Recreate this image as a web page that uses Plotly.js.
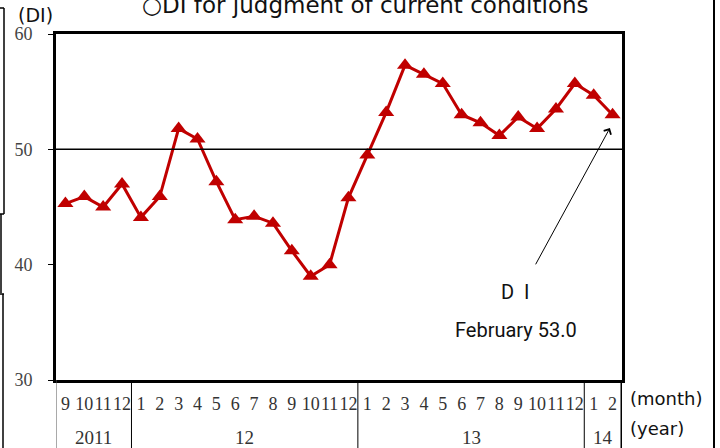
<!DOCTYPE html>
<html>
<head>
<meta charset="utf-8">
<script src="https://cdn.plot.ly/plotly-3.0.1.min.js"></script>
<style>html,body{margin:0;padding:0;background:#fff;}#chart{width:720px;height:448px;}</style>
</head>
<body>
<div id="chart"></div>
<script>
// Data (Sep 2011 - Feb 2014)
const months = ['9','10','11','12','1','2','3','4','5','6','7','8','9','10','11','12','1','2','3','4','5','6','7','8','9','10','11','12','1','2'];
const diValues = [45.3,45.9,45.0,47.0,44.1,45.9,51.8,50.9,47.2,43.9,44.2,43.6,41.2,39.0,40.0,45.8,49.5,53.2,57.3,56.5,55.7,53.0,52.3,51.2,52.8,51.8,53.5,55.7,54.7,53.0];
const yearLabels = ['2011','12','13','14'];
const yearStarts = [0,4,16,28];
const yearEnds = [3,15,27,29];
const yTicks = [30,40,50,60];

const idx = months.map((m,i)=>i);
const red = '#C00000';

const trace = {
  x: idx, y: diValues, type: 'scatter', mode: 'lines+markers',
  line: {color: red, width: 3},
  marker: {symbol: 'triangle-up', size: 14, color: red},
  hoverinfo: 'skip', showlegend: false
};

const shapes = [];
// gridline at 50
shapes.push({type:'line', xref:'paper', yref:'y', x0:0, x1:1, y0:50, y1:50, line:{color:'#000', width:1.5}});
// table separators under the axis
yearStarts.forEach((s,i)=>{
  shapes.push({type:'line', xref:'x', yref:'paper', x0:s-0.5, x1:s-0.5, y0:0, y1:-0.21, line:{color: i===0 ? '#555' : '#000', width:1}});
});
shapes.push({type:'line', xref:'x', yref:'paper', x0:29.5, x1:29.5, y0:0, y1:-0.21, line:{color:'#000', width:3}});
// frame fragments at page edges
const px = v => (v-56)/566;
const py = v => (380-v)/346;
shapes.push({type:'line', xref:'paper', yref:'paper', x0:px(714), x1:px(714), y0:py(0), y1:py(448), line:{color:'#000', width:2}});
shapes.push({type:'line', xref:'paper', yref:'paper', x0:px(4), x1:px(4), y0:py(8), y1:py(214), line:{color:'#000', width:1.5}});
shapes.push({type:'line', xref:'paper', yref:'paper', x0:px(0), x1:px(4), y0:py(8), y1:py(8), line:{color:'#000', width:1.5}});
shapes.push({type:'line', xref:'paper', yref:'paper', x0:px(0), x1:px(4), y0:py(214), y1:py(214), line:{color:'#000', width:1.5}});
shapes.push({type:'line', xref:'paper', yref:'paper', x0:px(1), x1:px(1), y0:py(214), y1:py(293), line:{color:'#000', width:1.5}});
shapes.push({type:'line', xref:'paper', yref:'paper', x0:px(0), x1:px(4), y0:py(294), y1:py(294), line:{color:'#000', width:1.5}});
shapes.push({type:'line', xref:'paper', yref:'paper', x0:px(3), x1:px(3), y0:py(294), y1:py(448), line:{color:'#000', width:1.5}});

const annotations = [];
yearLabels.forEach((t,i)=>{
  annotations.push({text:t, xref:'x', yref:'paper', x:(yearStarts[i]+yearEnds[i])/2, y:py(437), showarrow:false,
    xanchor:'center', yanchor:'middle', font:{family:'Liberation Serif', size:19, color:'#333'}});
});
annotations.push({text:'○DI for judgment of current conditions', xref:'paper', yref:'paper', x:px(365), y:py(5), showarrow:false,
  xanchor:'center', yanchor:'middle', font:{family:'DejaVu Sans', size:23, color:'#111'}});
annotations.push({text:'(DI)', xref:'paper', yref:'paper', x:px(35), y:py(15), showarrow:false,
  xanchor:'center', yanchor:'middle', font:{family:'DejaVu Sans', size:19, color:'#111'}});
annotations.push({text:'(month)', xref:'paper', yref:'paper', x:px(628), y:py(398), showarrow:false,
  xanchor:'left', yanchor:'middle', font:{family:'DejaVu Sans', size:18, color:'#111'}});
annotations.push({text:'(year)', xref:'paper', yref:'paper', x:px(628), y:py(428), showarrow:false,
  xanchor:'left', yanchor:'middle', font:{family:'DejaVu Sans', size:18, color:'#111'}});
annotations.push({text:'D\u00a0\u00a0I', xref:'paper', yref:'paper', x:px(515), y:py(292), showarrow:false,
  xanchor:'center', yanchor:'middle', font:{family:'Roboto', size:20, color:'#111'}});
annotations.push({text:'February 53.0', xref:'paper', yref:'paper', x:px(516), y:py(330), showarrow:false,
  xanchor:'center', yanchor:'middle', font:{family:'Roboto', size:20, color:'#111'}});
annotations.push({text:'', xref:'x', yref:'y', x:28.86, y:51.85, axref:'x', ayref:'y', ax:24.88, ay:39.9,
  showarrow:true, arrowhead:4, arrowsize:1.6, arrowwidth:1, arrowcolor:'#000'});

const layout = {
  width:720, height:448,
  margin:{l:56, r:98, t:34, b:68, pad:0},
  paper_bgcolor:'#fff', plot_bgcolor:'#fff',
  showlegend:false,
  xaxis:{range:[-0.5,29.5], tickmode:'array', tickvals:idx, ticktext:months, ticks:'', tickangle:0, showline:true, linecolor:'#000', linewidth:3, mirror:true,
    showgrid:false, zeroline:false, fixedrange:true, ticklabelstandoff:5,
    tickfont:{family:'Liberation Serif', size:18, color:'#333'}},
  yaxis:{range:[30,60], tickmode:'array', tickvals:yTicks, ticks:'outside', ticklen:5, tickwidth:1, tickcolor:'#000', showline:true, linecolor:'#000', linewidth:3, mirror:true,
    showgrid:false, zeroline:false, fixedrange:true, ticklabelstandoff:12,
    tickfont:{family:'Liberation Serif', size:18, color:'#444'}},
  shapes:shapes,
  annotations:annotations
};
Plotly.newPlot('chart', [trace], layout, {displayModeBar:false, staticPlot:true});
</script>
</body>
</html>
